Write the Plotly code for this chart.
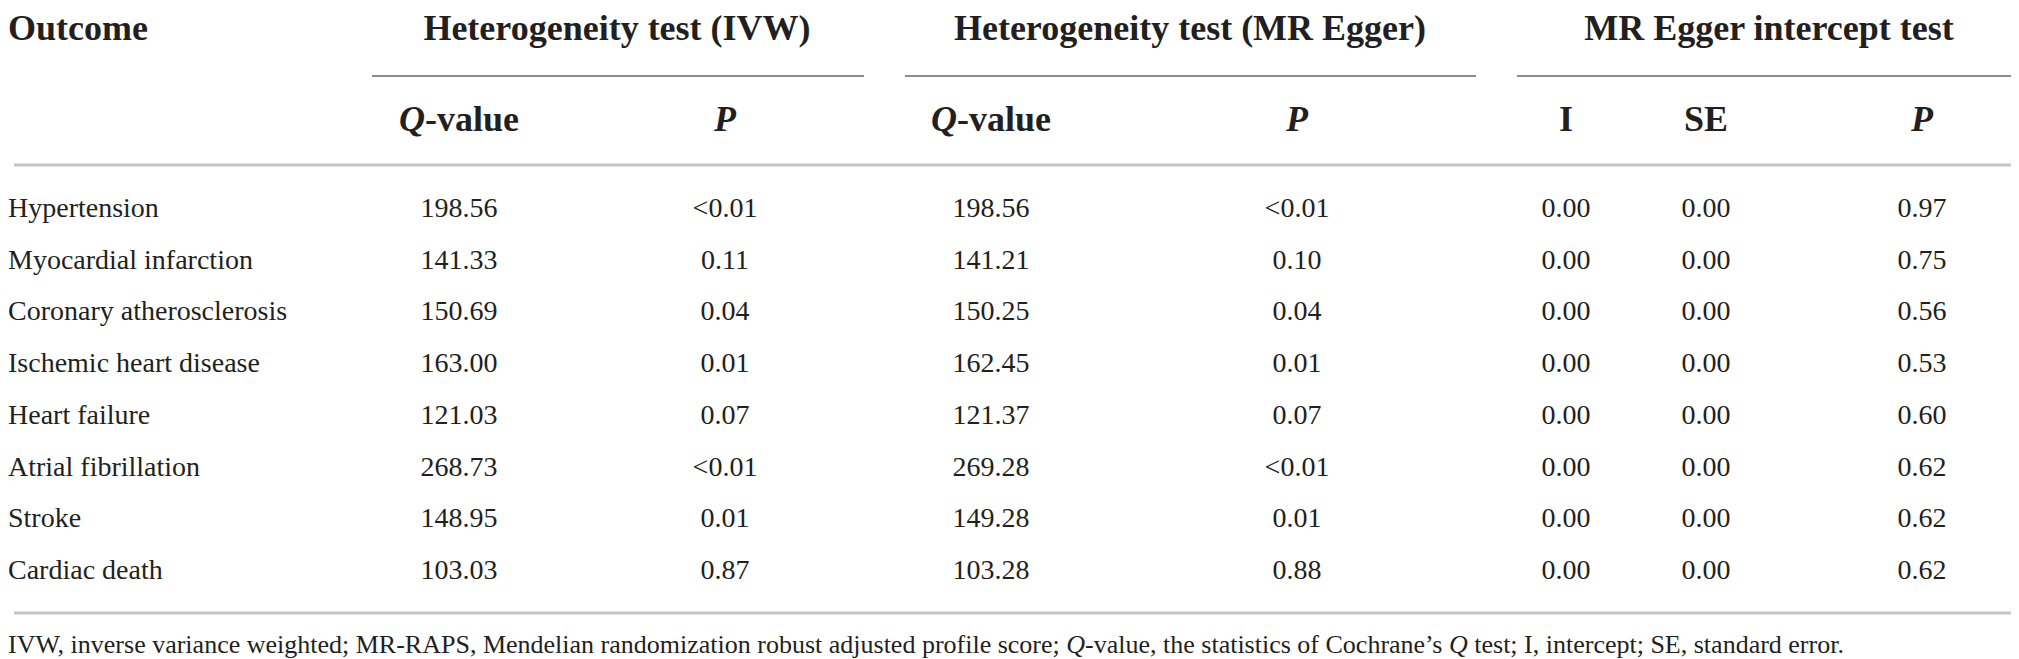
import plotly.graph_objects as go

outcomes = ["Hypertension", "Myocardial infarction", "Coronary atherosclerosis",
            "Ischemic heart disease", "Heart failure", "Atrial fibrillation",
            "Stroke", "Cardiac death"]
ivw_q = [198.56, 141.33, 150.69, 163.00, 121.03, 268.73, 148.95, 103.03]
ivw_p = ["<0.01", "0.11", "0.04", "0.01", "0.07", "<0.01", "0.01", "0.87"]
egger_q = [198.56, 141.21, 150.25, 162.45, 121.37, 269.28, 149.28, 103.28]
egger_p = ["<0.01", "0.10", "0.04", "0.01", "0.07", "<0.01", "0.01", "0.88"]
intercept = [0.00, 0.00, 0.00, 0.00, 0.00, 0.00, 0.00, 0.00]
intercept_se = [0.00, 0.00, 0.00, 0.00, 0.00, 0.00, 0.00, 0.00]
intercept_p = [0.97, 0.75, 0.56, 0.53, 0.60, 0.62, 0.62, 0.62]

groups = ["Heterogeneity test (IVW)", "Heterogeneity test (MR Egger)", "MR Egger intercept test"]
subheads = ["<i>Q</i>-value", "<i>P</i>", "<i>Q</i>-value", "<i>P</i>", "I", "SE", "<i>P</i>"]
footnote = ("IVW, inverse variance weighted; MR-RAPS, Mendelian randomization robust adjusted "
            "profile score; <i>Q</i>-value, the statistics of Cochrane\u2019s <i>Q</i> test; "
            "I, intercept; SE, standard error.")

W, H = 2019, 659
FONT = "Liberation Serif"
INK = "#231f20"
LEFT = 0

col_x = [451, 717, 983, 1289, 1558, 1698, 1914]
group_x = [609, 1182, 1761]
group_lines = [(364, 856), (897, 1468), (1509, 2013)]
row_y = [202 + 51.7 * i for i in range(len(outcomes))]
y_title, y_sub, y_foot = 23, 114, 638

fmt = lambda vals: [v if isinstance(v, str) else f"{v:.2f}" for v in vals]
columns = [fmt(ivw_q), ivw_p, fmt(egger_q), egger_p, fmt(intercept), fmt(intercept_se), fmt(intercept_p)]


def text_trace(xs, ys, texts, size, pos="middle center"):
    return go.Scatter(x=xs, y=ys, text=texts, mode="text", textposition=pos, cliponaxis=False,
                      hoverinfo="skip", textfont=dict(family=FONT, size=size, color=INK))


fig = go.Figure()

# header row 1
fig.add_trace(text_trace([LEFT], [y_title], ["<b>Outcome</b>"], 36, "middle right"))
fig.add_trace(text_trace(group_x, [y_title] * 3, [f"<b>{g}</b>" for g in groups], 36))
# header row 2
fig.add_trace(text_trace(col_x, [y_sub] * len(col_x), [f"<b>{s}</b>" for s in subheads], 36))
# body
fig.add_trace(text_trace([LEFT] * len(outcomes), row_y, outcomes, 28, "middle right"))
for cx, vals in zip(col_x, columns):
    fig.add_trace(text_trace([cx] * len(vals), row_y, vals, 28))
# footnote
fig.add_trace(text_trace([LEFT], [y_foot], [footnote], 26, "middle right"))

shapes = []
for x0, x1 in group_lines:
    shapes.append(dict(type="line", x0=x0, x1=x1, y0=68, y1=68, xref="x", yref="y",
                       line=dict(color="#8c8c8c", width=2)))
for yy in (157, 605):
    shapes.append(dict(type="line", x0=6, x1=2013, y0=yy, y1=yy, xref="x", yref="y",
                       line=dict(color="#c4c4c4", width=3)))

fig.update_layout(
    width=W, height=H, showlegend=False, shapes=shapes,
    margin=dict(l=0, r=0, t=0, b=0),
    paper_bgcolor="white", plot_bgcolor="white",
    xaxis=dict(range=[0, W], visible=False, fixedrange=True),
    yaxis=dict(range=[H, 0], visible=False, fixedrange=True),
)

fig.write_html("out.html")
